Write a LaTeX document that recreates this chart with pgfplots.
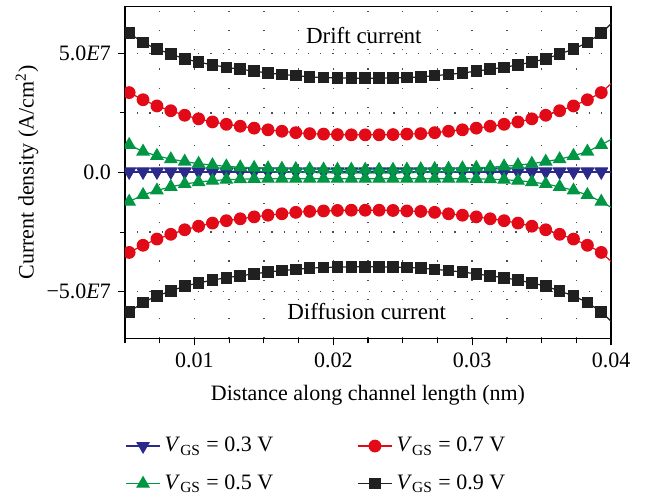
\documentclass[border=0pt]{standalone}
\usepackage{fontspec}
\setmainfont{Liberation Serif}
\usepackage{pgfplots}
\usepackage{pgfplotstable}
\pgfplotsset{compat=1.18}
\definecolor{cBlue}{RGB}{43,42,138}
\definecolor{cGreen}{RGB}{0,150,68}
\definecolor{cRed}{RGB}{227,10,23}
\definecolor{cBlack}{RGB}{32,32,32}
\newcommand{\fs}{\fontsize{11}{13}\selectfont}
\newcommand{\fl}{\fontsize{11}{13}\selectfont}
% x, blue drift/diff, green drift/diff, red drift/diff, black drift/diff (units of 1E7 A/cm^2)
\pgfplotstableread{
x      bd    bf    gd    gf     rd    rf     kd    kf
0.0053 0.05  0.02  1.16  -1.22  3.35  -3.35  5.84  -5.84
0.0063 0.05  0.02  0.88  -0.94  3.05  -3.05  5.45  -5.45
0.0073 0.05  0.02  0.70  -0.75  2.79  -2.79  5.17  -5.17
0.0083 0.05  0.02  0.56  -0.60  2.59  -2.59  4.97  -4.97
0.0093 0.05  0.02  0.46  -0.48  2.40  -2.40  4.76  -4.76
0.0103 0.05  0.02  0.37  -0.40  2.25  -2.25  4.63  -4.63
0.0113 0.05  0.02  0.31  -0.34  2.12  -2.12  4.51  -4.51
0.0123 0.05  0.02  0.26  -0.30  2.02  -2.02  4.41  -4.41
0.0133 0.05  0.02  0.22  -0.28  1.94  -1.94  4.33  -4.33
0.0143 0.05  0.02  0.20  -0.27  1.86  -1.86  4.25  -4.25
0.0153 0.05  0.02  0.18  -0.26  1.79  -1.79  4.17  -4.17
0.0163 0.05  0.02  0.16  -0.26  1.73  -1.73  4.11  -4.11
0.0173 0.05  0.02  0.15  -0.26  1.67  -1.67  4.06  -4.06
0.0183 0.05  0.02  0.14  -0.26  1.63  -1.63  4.01  -4.01
0.0193 0.05  0.02  0.13  -0.26  1.61  -1.61  3.98  -3.98
0.0203 0.05  0.02  0.12  -0.26  1.59  -1.59  3.97  -3.97
0.0213 0.05  0.02  0.12  -0.26  1.58  -1.58  3.95  -3.95
0.0223 0.05  0.02  0.12  -0.26  1.58  -1.58  3.95  -3.95
0.0233 0.05  0.02  0.12  -0.26  1.58  -1.58  3.95  -3.95
0.0243 0.05  0.02  0.12  -0.26  1.59  -1.59  3.97  -3.97
0.0253 0.05  0.02  0.13  -0.26  1.61  -1.61  3.98  -3.98
0.0263 0.05  0.02  0.14  -0.26  1.63  -1.63  4.01  -4.01
0.0273 0.05  0.02  0.15  -0.26  1.67  -1.67  4.06  -4.06
0.0283 0.05  0.02  0.16  -0.26  1.73  -1.73  4.11  -4.11
0.0293 0.05  0.02  0.18  -0.26  1.79  -1.79  4.17  -4.17
0.0303 0.05  0.02  0.20  -0.27  1.86  -1.86  4.25  -4.25
0.0313 0.05  0.02  0.22  -0.28  1.94  -1.94  4.33  -4.33
0.0323 0.05  0.02  0.26  -0.30  2.02  -2.02  4.41  -4.41
0.0333 0.05  0.02  0.31  -0.34  2.12  -2.12  4.51  -4.51
0.0343 0.05  0.02  0.37  -0.40  2.25  -2.25  4.63  -4.63
0.0353 0.05  0.02  0.46  -0.48  2.40  -2.40  4.76  -4.76
0.0363 0.05  0.02  0.56  -0.60  2.59  -2.59  4.97  -4.97
0.0373 0.05  0.02  0.70  -0.75  2.79  -2.79  5.17  -5.17
0.0383 0.05  0.02  0.88  -0.94  3.05  -3.05  5.45  -5.45
0.0393 0.05  0.02  1.16  -1.22  3.35  -3.35  5.84  -5.84
0.0403 0.05  0.02  1.48  -1.56  3.88  -3.88  6.40  -6.40
}\data

\begin{document}
\begin{tikzpicture}
\path (-62.5pt,-77.35pt) rectangle (260.5pt,169.15pt);
\begin{axis}[
  at={(0,0)}, anchor=south west,
  scale only axis, width=243pt, height=165.8pt,
  xmin=0.005, xmax=0.04, ymin=-6.95, ymax=6.95,
  scaled x ticks=false, scaled y ticks=false,
  xtick={0.01,0.02,0.03,0.04}, xticklabels={0.01,0.02,0.03,0.04},
  minor xtick={0.005,0.0075,0.0125,0.015,0.0175,0.0225,0.025,0.0275,0.0325,0.035,0.0375},
  ytick={-5,0,5}, yticklabels={−5.0\textit{E}7,0.0,5.0\textit{E}7},
  minor ytick={-2.5,2.5},
  tick align=outside, xtick pos=left, ytick pos=left,
  major tick length=3.5pt, minor tick length=2.5pt,
  tick style={black, line width=0.6pt},
  axis line style={line width=0.7pt},
  grid=both,
  x grid style={black!70, line width=0.7pt, dash pattern=on 0.6pt off 9pt},
  y grid style={black!70, line width=0.7pt, dash pattern=on 0.6pt off 5.5pt},
  tick label style={font=\fs},
  xlabel={Distance along channel length (nm)},
  ylabel={Current density (A/cm\textsuperscript{2})},
  every axis x label/.style={at={(axis description cs:0.5,-0.172)}, anchor=center, font=\fl},
  every axis y label/.style={at={(axis description cs:-0.2016,0.5)}, rotate=90, anchor=center, font=\fl},
  clip marker paths=true,
  legend columns=2, transpose legend,
  legend cell align=left,
  legend style={draw=none, fill=none, font=\fs, at={(0,-0.285)}, anchor=north west,
    inner sep=0pt, row sep=6pt,
    /tikz/every even column/.append style={column sep=40pt}},
]
\addplot[cBlue, line width=0.6pt, mark=triangle*, mark size=3.4pt, mark options={rotate=180}] table[x=x,y=bd]{\data};
\addlegendentry{\textit{V}\textsubscript{GS} = 0.3 V}
\addplot[cBlue, line width=0.6pt, mark=triangle*, mark size=3.4pt, mark options={rotate=180}, forget plot] table[x=x,y=bf]{\data};
\addplot[cGreen, line width=0.6pt, mark=triangle*, mark size=3.4pt] table[x=x,y=gd]{\data};
\addlegendentry{\textit{V}\textsubscript{GS} = 0.5 V}
\addplot[cGreen, line width=0.6pt, mark=triangle*, mark size=3.4pt, forget plot] table[x=x,y=gf]{\data};
\addplot[cRed, line width=0.6pt, mark=*, mark size=2.9pt] table[x=x,y=rd]{\data};
\addlegendentry{\textit{V}\textsubscript{GS} = 0.7 V}
\addplot[cRed, line width=0.6pt, mark=*, mark size=2.9pt, forget plot] table[x=x,y=rf]{\data};
\addplot[cBlack, line width=0.6pt, mark=square*, mark size=2.6pt] table[x=x,y=kd]{\data};
\addlegendentry{\textit{V}\textsubscript{GS} = 0.9 V}
\addplot[cBlack, line width=0.6pt, mark=square*, mark size=2.6pt, forget plot] table[x=x,y=kf]{\data};
\node[font=\fontsize{11.5}{13}\selectfont] at (axis cs:0.0222,5.73) {Drift current};
\node[font=\fontsize{11.5}{13}\selectfont] at (axis cs:0.0224,-5.84) {Diffusion current};
\end{axis}
\end{tikzpicture}
\end{document}
